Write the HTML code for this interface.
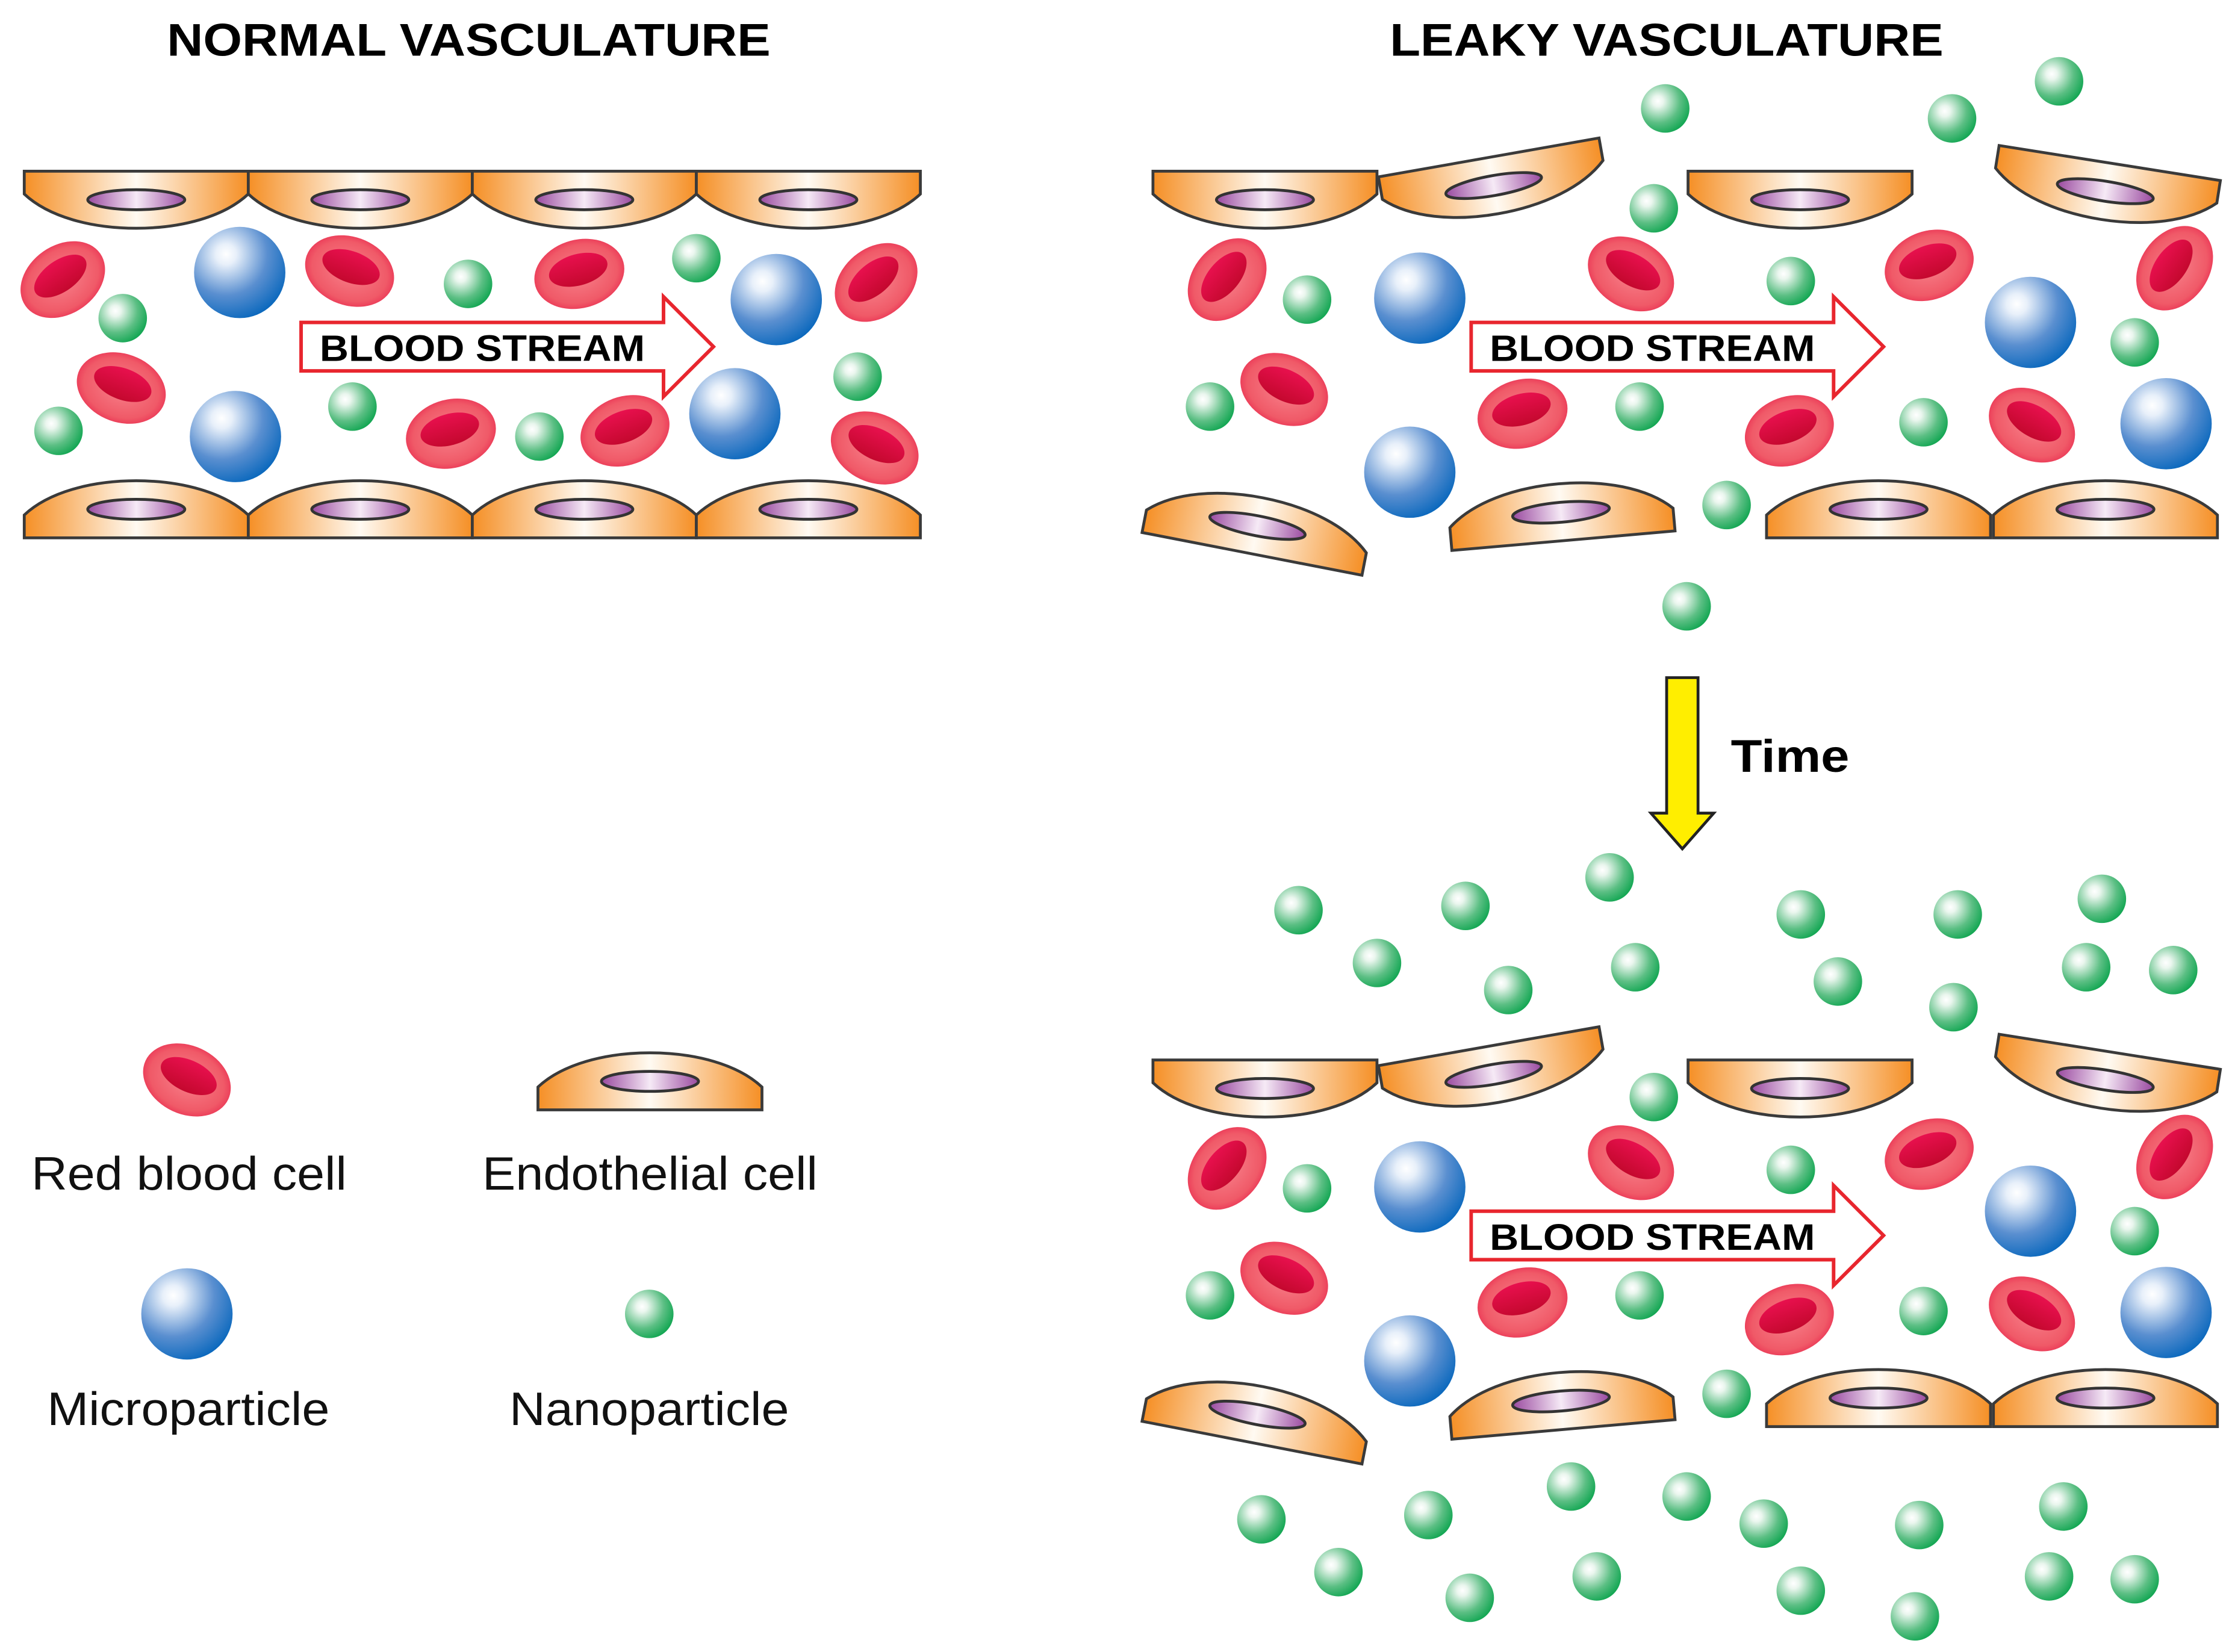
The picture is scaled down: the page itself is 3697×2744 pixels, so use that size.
<!DOCTYPE html>
<html><head><meta charset="utf-8"><style>html,body{margin:0;padding:0;background:#fff}svg{display:block}</style></head>
<body>
<svg width="3697" height="2744" viewBox="0 0 1560 1158" preserveAspectRatio="none" xmlns="http://www.w3.org/2000/svg" font-family="Liberation Sans, Arial, sans-serif">
<defs>
<linearGradient id="eg" x1="0" x2="1" y1="0" y2="0"><stop offset="0" stop-color="#f58f25"/><stop offset="0.5" stop-color="#fffaf2"/><stop offset="1" stop-color="#f58f25"/></linearGradient>
<linearGradient id="ng" x1="0" x2="1" y1="0" y2="0"><stop offset="0" stop-color="#9a4aa0"/><stop offset="0.5" stop-color="#f6eaf6"/><stop offset="1" stop-color="#9a4aa0"/></linearGradient>
<radialGradient id="bg" cx="0.35" cy="0.3" r="0.75"><stop offset="0" stop-color="#ffffff"/><stop offset="0.15" stop-color="#e8f0fa"/><stop offset="0.6" stop-color="#5a8fd0"/><stop offset="1" stop-color="#0a68bd"/></radialGradient>
<radialGradient id="gg" cx="0.35" cy="0.35" r="0.75"><stop offset="0" stop-color="#ffffff"/><stop offset="0.15" stop-color="#eaf6ee"/><stop offset="0.6" stop-color="#5cbf84"/><stop offset="1" stop-color="#06a24a"/></radialGradient>
<radialGradient id="rg" cx="0.5" cy="0.5" r="0.6"><stop offset="0" stop-color="#f7808a"/><stop offset="0.7" stop-color="#f05a68"/><stop offset="1" stop-color="#e8204a"/></radialGradient>
<linearGradient id="rin" x1="0" x2="0" y1="0" y2="1"><stop offset="0" stop-color="#e8104e"/><stop offset="1" stop-color="#c4082e"/></linearGradient>
<g id="eh"><path d="M0,0 H157 V16 C140,32 110,40 78.5,40 C47,40 17,32 0,16 Z" fill="url(#eg)" stroke="#3a3a3a" stroke-width="2"/><ellipse cx="78.5" cy="20" rx="34" ry="7" fill="url(#ng)" stroke="#333" stroke-width="2"/></g>
<g id="eu"><path d="M0,40 H157 V24 C140,8 110,0 78.5,0 C47,0 17,8 0,24 Z" fill="url(#eg)" stroke="#3a3a3a" stroke-width="2"/><ellipse cx="78.5" cy="20" rx="34" ry="7" fill="url(#ng)" stroke="#333" stroke-width="2"/></g>
<g id="rbc"><ellipse cx="0" cy="0" rx="32" ry="24" fill="url(#rg)"/><ellipse cx="0" cy="-3" rx="21" ry="11" fill="url(#rin)"/></g>
<circle id="mp" cx="0" cy="0" r="32" fill="url(#bg)"/>
<circle id="np" cx="0" cy="0" r="17" fill="url(#gg)"/>
<g id="bs"><path d="M0,-17 H254 V-35 L289,0 L254,35 V17 H0 Z" fill="#fff" stroke="#e8262e" stroke-width="2.5"/><text x="13" y="10" font-size="26" font-weight="bold" fill="#000" textLength="228" lengthAdjust="spacingAndGlyphs">BLOOD STREAM</text></g>
<g id="leaky">
<use href="#eh" x="808" y="120"/>
<use href="#eh" transform="translate(966,124) rotate(-10)"/>
<use href="#eh" x="1183" y="120"/>
<use href="#eh" transform="translate(1401,102) rotate(9)"/>
<use href="#eu" transform="translate(808,334) rotate(11)"/>
<use href="#eu" transform="translate(1014,346) rotate(-5)"/>
<use href="#eu" x="1238" y="337"/>
<use href="#eu" x="1397" y="337"/>
<use href="#rbc" transform="translate(860,196) rotate(-50)"/>
<use href="#rbc" transform="translate(1143,192) rotate(30)"/>
<use href="#rbc" transform="translate(1352,186) rotate(-20)"/>
<use href="#rbc" transform="translate(1524,188) rotate(-55)"/>
<use href="#rbc" transform="translate(900,273) rotate(25)"/>
<use href="#rbc" transform="translate(1067,290) rotate(-15)"/>
<use href="#rbc" transform="translate(1254,302) rotate(-20)"/>
<use href="#rbc" transform="translate(1424,298) rotate(30)"/>
<use href="#mp" x="995" y="209"/><use href="#mp" x="988" y="331"/><use href="#mp" x="1423" y="226"/><use href="#mp" x="1518" y="297"/>
<use href="#np" x="916" y="210"/><use href="#np" x="1255" y="197"/><use href="#np" x="848" y="285"/><use href="#np" x="1149" y="285"/><use href="#np" x="1348" y="296"/><use href="#np" x="1496" y="240"/><use href="#np" x="1159" y="146"/><use href="#np" x="1210" y="354"/>
<use href="#bs" x="1031" y="243"/>
</g>
</defs>
<rect width="1560" height="1158" fill="#fff"/>
<text x="117" y="39" font-size="32" font-weight="bold" textLength="423" lengthAdjust="spacingAndGlyphs">NORMAL VASCULATURE</text>
<text x="974" y="39" font-size="32" font-weight="bold" textLength="388" lengthAdjust="spacingAndGlyphs">LEAKY VASCULATURE</text>
<!-- normal -->
<use href="#eh" x="17" y="120"/><use href="#eh" x="174" y="120"/><use href="#eh" x="331" y="120"/><use href="#eh" x="488" y="120"/>
<use href="#eu" x="17" y="337"/><use href="#eu" x="174" y="337"/><use href="#eu" x="331" y="337"/><use href="#eu" x="488" y="337"/>
<use href="#rbc" transform="translate(44,196) rotate(-35)"/>
<use href="#rbc" transform="translate(245,190) rotate(20)"/>
<use href="#rbc" transform="translate(406,192) rotate(-15)"/>
<use href="#rbc" transform="translate(614,198) rotate(-40)"/>
<use href="#rbc" transform="translate(85,272) rotate(20)"/>
<use href="#rbc" transform="translate(316,304) rotate(-15)"/>
<use href="#rbc" transform="translate(438,302) rotate(-20)"/>
<use href="#rbc" transform="translate(613,314) rotate(25)"/>
<use href="#mp" x="168" y="191"/><use href="#mp" x="165" y="306"/><use href="#mp" x="544" y="210"/><use href="#mp" x="515" y="290"/>
<use href="#np" x="86" y="223"/><use href="#np" x="328" y="199"/><use href="#np" x="488" y="181"/><use href="#np" x="41" y="302"/><use href="#np" x="247" y="285"/><use href="#np" x="378" y="306"/><use href="#np" x="601" y="264"/>
<use href="#bs" x="211" y="243"/>
<!-- leaky -->
<use href="#leaky"/>
<use href="#np" x="1167" y="76"/><use href="#np" x="1443" y="57"/><use href="#np" x="1368" y="83"/><use href="#np" x="1182" y="425"/>
<path d="M1168,475 H1190 V570 H1201 L1179,595 L1157,570 H1168 Z" fill="#ffee00" stroke="#222" stroke-width="2"/>
<text x="1213" y="541" font-size="32" font-weight="bold" textLength="83" lengthAdjust="spacingAndGlyphs">Time</text>
<use href="#leaky" transform="translate(0,623)"/>
<g>
<use href="#np" x="910" y="638"/><use href="#np" x="1027" y="635"/><use href="#np" x="1128" y="615"/><use href="#np" x="1262" y="641"/><use href="#np" x="1372" y="641"/><use href="#np" x="1473" y="630"/><use href="#np" x="965" y="675"/><use href="#np" x="1057" y="694"/><use href="#np" x="1146" y="678"/><use href="#np" x="1288" y="688"/><use href="#np" x="1369" y="706"/><use href="#np" x="1462" y="678"/><use href="#np" x="1523" y="680"/>
<use href="#np" x="884" y="1065"/><use href="#np" x="1001" y="1062"/><use href="#np" x="1101" y="1042"/><use href="#np" x="1182" y="1049"/><use href="#np" x="1236" y="1068"/><use href="#np" x="1345" y="1069"/><use href="#np" x="1446" y="1056"/><use href="#np" x="938" y="1102"/><use href="#np" x="1030" y="1120"/><use href="#np" x="1119" y="1105"/><use href="#np" x="1262" y="1115"/><use href="#np" x="1342" y="1133"/><use href="#np" x="1436" y="1105"/><use href="#np" x="1496" y="1107"/>
</g>
<!-- legend -->
<use href="#rbc" transform="translate(131,757) rotate(25)"/>
<use href="#eu" x="377" y="738"/>
<use href="#mp" x="131" y="921"/>
<use href="#np" x="455" y="921"/>
<text x="22" y="834" font-size="33" fill="#111" textLength="221" lengthAdjust="spacingAndGlyphs">Red blood cell</text>
<text x="338" y="834" font-size="33" fill="#111" textLength="235" lengthAdjust="spacingAndGlyphs">Endothelial cell</text>
<text x="33" y="999" font-size="33" fill="#111" textLength="198" lengthAdjust="spacingAndGlyphs">Microparticle</text>
<text x="357" y="999" font-size="33" fill="#111" textLength="196" lengthAdjust="spacingAndGlyphs">Nanoparticle</text>
</svg>
</body></html>
